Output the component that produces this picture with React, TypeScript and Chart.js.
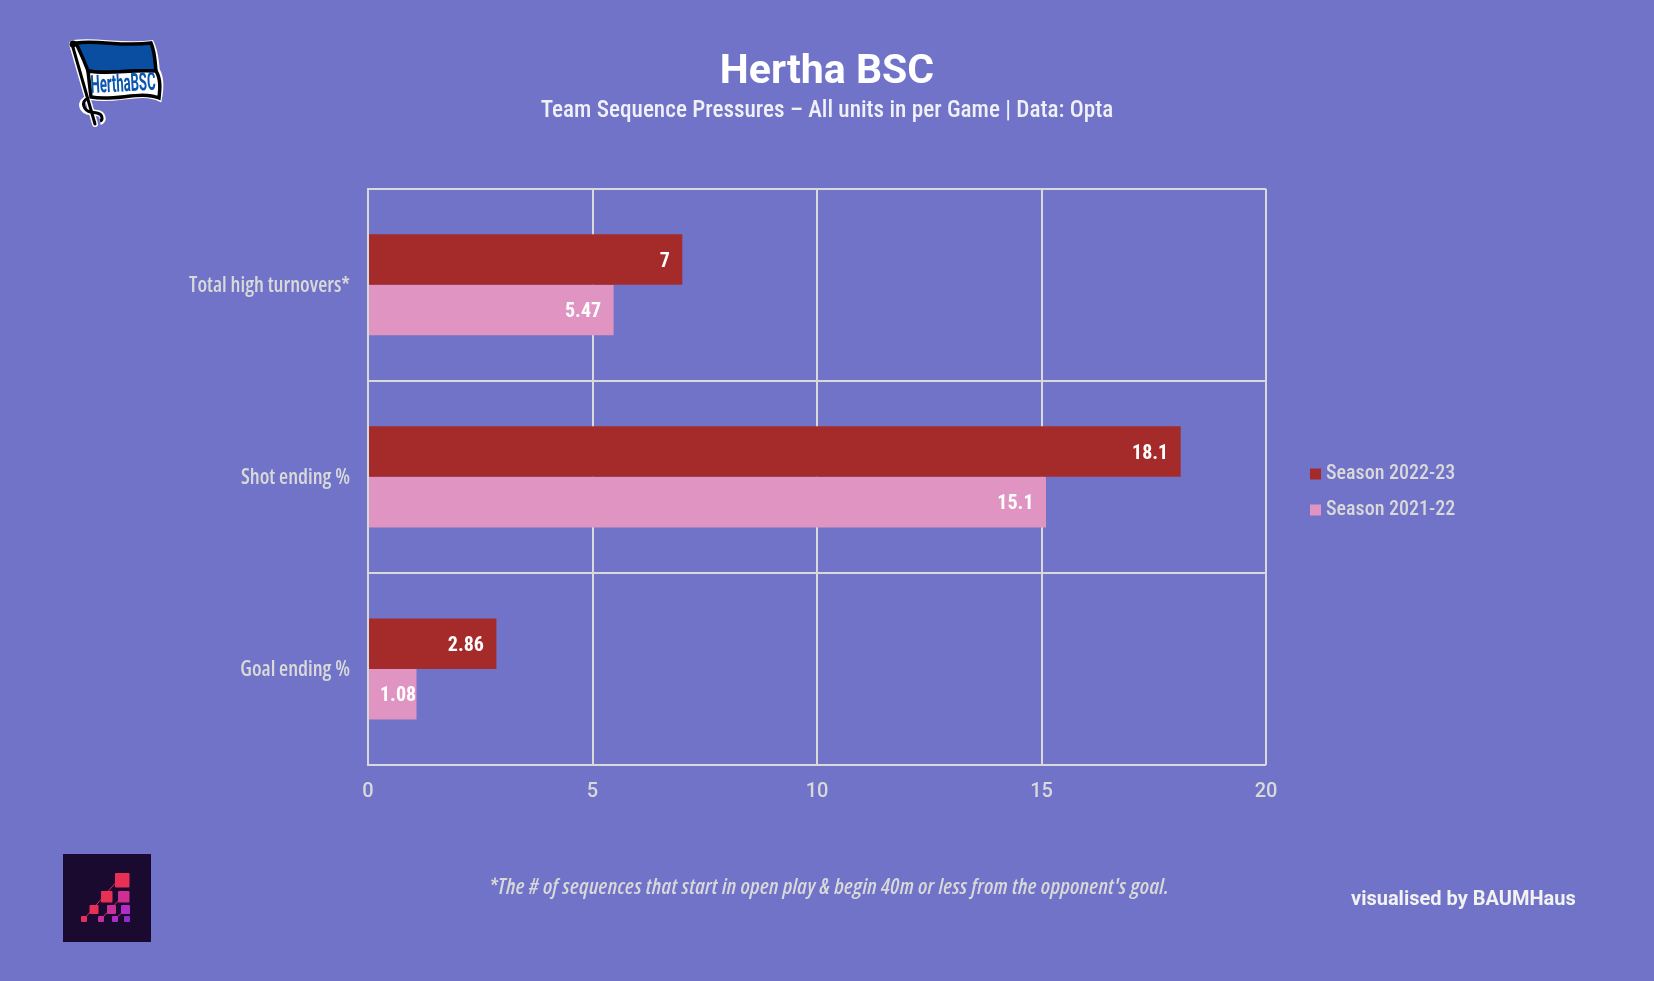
import React, { useEffect, useRef } from "react";
import { Chart, registerables } from "chart.js";

Chart.register(...registerables);

const categories = ["Total high turnovers*", "Shot ending %", "Goal ending %"];
const season2223 = [7, 18.1, 2.86];
const season2122 = [5.47, 15.1, 1.08];
const seriesNames = ["Season 2022-23", "Season 2021-22"];
const titleText = "Hertha BSC";
const subtitleText = "Team Sequence Pressures – All units in per Game | Data: Opta";
const footnoteText = "*The # of sequences that start in open play & begin 40m or less from the opponent's goal.";
const creditText = "visualised by BAUMHaus";

const BG = "#7073C7";
const RED = "#A52A2A";
const PINK = "#E094C2";
const GRID = "#D9D9D9";
const ROBOTO = 'Roboto, "Liberation Sans", sans-serif';
const OPEN = '"Open Sans", "Liberation Sans", sans-serif';

const dataLabels = {
  id: "dataLabels",
  afterDatasetsDraw(chart: any) {
    const ctx = chart.ctx;
    ctx.save();
    ctx.font = `bold condensed 20px ${ROBOTO}`;
    ctx.fillStyle = "#FFFFFF";
    ctx.textAlign = "right";
    ctx.textBaseline = "middle";
    chart.data.datasets.forEach((ds: any, i: number) => {
      chart.getDatasetMeta(i).data.forEach((bar: any, j: number) => {
        const label = String(ds.data[j]);
        const w = ctx.measureText(label).width;
        const right = Math.max(bar.x - 12.5, chart.chartArea.left + 12 + w);
        ctx.fillText(label, right, bar.y + 2);
      });
    });
    ctx.restore();
  },
};

const placeLegend = {
  id: "placeLegend",
  beforeLayout(chart: any) {
    const legend = chart.legend;
    if (legend) {
      const proto = Object.getPrototypeOf(legend);
      legend.fit = function () {
        proto.fit.call(this);
        this.width = 1654 - 1266;
      };
    }
  },
  afterLayout(chart: any) {
    const legend = chart.legend;
    if (legend) {
      legend.left = 1299;
      legend.right = 1654;
      legend.top = 448;
    }
  },
};

function Flag() {
  return (
    <svg
      width={110}
      height={100}
      viewBox="60 35 110 100"
      style={{ position: "absolute", left: 60, top: 35 }}
    >
      <path d="M72 44 L95 124" stroke="#fff" strokeWidth={6} strokeLinecap="round" fill="none" />
      <path
        d="M88 98 C78 102 82 112 90 112 L97 113 C104 114 104 121 100 122"
        stroke="#fff"
        strokeWidth={6}
        fill="none"
      />
      <path
        d="M73 42 C95 38 120 46 152 42 C157 52 157 60 158 70 C163 78 162 90 160 100 C140 90 115 104 90 98 Z"
        fill="#fff"
        stroke="#fff"
        strokeWidth={3.5}
      />
      <path
        d="M76 43 C100 40 122 47 151 43 C155 52 155 62 156 71 C130 69 112 75 88 71 C84 60 80 52 76 43 Z"
        fill="#0A4EA2"
        stroke="#000"
        strokeWidth={3.5}
      />
      <path
        d="M88 71 C112 75 130 69 156 71 C161 79 160 89 159 98 C140 90 115 102 91 97 Z"
        fill="#fff"
        stroke="#000"
        strokeWidth={3.5}
      />
      <path d="M72 44 L95 124" stroke="#000" strokeWidth={3} strokeLinecap="round" fill="none" />
      <path
        d="M88 98 C80 102 84 111 91 112 L97 113 C103 114 103 120 100 121"
        stroke="#000"
        strokeWidth={3}
        fill="none"
      />
      <text
        x={91}
        y={93}
        fontFamily={ROBOTO}
        fontWeight="bold"
        fontSize={25}
        fill="#0A55B0"
        textLength={65}
        lengthAdjust="spacingAndGlyphs"
        transform="rotate(-3 91 93)"
      >
        HerthaBSC
      </text>
      <circle cx={73} cy={44} r={3.5} fill="#000" />
    </svg>
  );
}

function BrandMark() {
  const squares = [
    [115, 93, 14.5, "#EA2F55"],
    [101, 111, 11.5, "#EA2F55"],
    [118, 111, 11.5, "#CF2E92"],
    [89.5, 125, 9, "#EA2F55"],
    [107, 125, 9, "#CB2F98"],
    [121, 125, 9, "#B42CC8"],
    [81, 136, 6, "#E52F5C"],
    [98, 136, 6, "#C62E9C"],
    [112, 136, 6, "#B02CC8"],
    [124, 136, 6, "#8F2CCB"],
  ] as const;
  return (
    <svg
      width={88}
      height={88}
      viewBox="63 854 88 88"
      style={{ position: "absolute", left: 63, top: 854 }}
    >
      <rect x={63} y={854} width={88} height={88} fill="#1B0A30" />
      <g transform="translate(0,780)">
        <path d="M84 139 L118 100 M101 139 L124 115 M115 139 L127 128" stroke="#D92C66" strokeWidth={1} />
        {squares.map(([x, y, s, c], i) => (
          <rect key={i} x={x} y={y} width={s} height={s} rx={1} fill={c} />
        ))}
      </g>
    </svg>
  );
}

const textBase: React.CSSProperties = {
  position: "absolute",
  whiteSpace: "nowrap",
  lineHeight: 1,
};

export default function App() {
  const ref = useRef<HTMLCanvasElement>(null);

  useEffect(() => {
    document.body.style.margin = "0";
    document.body.style.background = BG;
    const chart = new Chart(ref.current as HTMLCanvasElement, {
      type: "bar",
      data: {
        labels: categories,
        datasets: [
          { label: seriesNames[0], data: season2223, backgroundColor: RED, borderWidth: 0 },
          { label: seriesNames[1], data: season2122, backgroundColor: PINK, borderWidth: 0 },
        ],
      },
      plugins: [dataLabels, placeLegend],
      options: {
        indexAxis: "y",
        responsive: false,
        animation: false,
        devicePixelRatio: 1,
        layout: { padding: 0 },
        datasets: { bar: { categoryPercentage: 0.526, barPercentage: 1 } },
        plugins: {
          title: {
            display: true,
            text: titleText,
            color: "#FFFFFF",
            font: { family: ROBOTO, size: 41, weight: "bold", lineHeight: 1.1 },
            padding: { top: 50.6, bottom: 0 },
          },
          subtitle: {
            display: true,
            text: subtitleText,
            color: "#F0F0F8",
            font: { family: ROBOTO, size: 23.2, weight: "500 condensed", lineHeight: 1.2 },
            padding: { top: 1.2, bottom: 64 },
          },
          legend: {
            display: true,
            position: "right",
            align: "start",
            labels: {
              color: GRID,
              font: { family: ROBOTO, size: 20, weight: "500 condensed" },
              usePointStyle: true,
              pointStyle: "rect",
              boxWidth: 1,
              boxHeight: 11,
              padding: 16,
            },
          },
          tooltip: { enabled: false },
        },
        scales: {
          x: {
            min: 0,
            max: 20,
            ticks: {
              stepSize: 5,
              color: GRID,
              font: { family: ROBOTO, size: 20, weight: "500" },
              padding: 15,
              maxRotation: 0,
            },
            grid: { color: GRID, lineWidth: 2, drawTicks: false },
            border: { display: false },
            afterFit(s: any) {
              s.height = 216;
            },
          },
          y: {
            ticks: {
              color: GRID,
              font: { family: OPEN, size: 20.8, weight: "600 condensed" },
              padding: 18,
              labelOffset: 1,
            },
            grid: { color: GRID, lineWidth: 2, drawTicks: false },
            border: { display: true, color: GRID, width: 2, z: 1 },
            afterFit(s: any) {
              s.width = 368;
            },
          },
        },
      } as any,
    });
    return () => chart.destroy();
  }, []);

  return (
    <div style={{ position: "relative", width: 1654, height: 981, background: BG, overflow: "hidden" }}>
      <canvas ref={ref} width={1654} height={981} style={{ display: "block" }} />
      <Flag />
      <BrandMark />
      <div
        style={{
          ...textBase,
          left: 489,
          top: 874,
          fontSize: 22,
          letterSpacing: 0.29,
          fontFamily: OPEN,
          fontStretch: "75%",
          fontWeight: 600,
          fontStyle: "italic",
          color: GRID,
        }}
      >
        {footnoteText}
      </div>
      <div
        style={{
          ...textBase,
          left: 1351,
          top: 888,
          fontSize: 20,
          fontFamily: ROBOTO,
          fontWeight: "bold",
          color: "#F2F2F2",
        }}
      >
        {creditText}
      </div>
    </div>
  );
}
